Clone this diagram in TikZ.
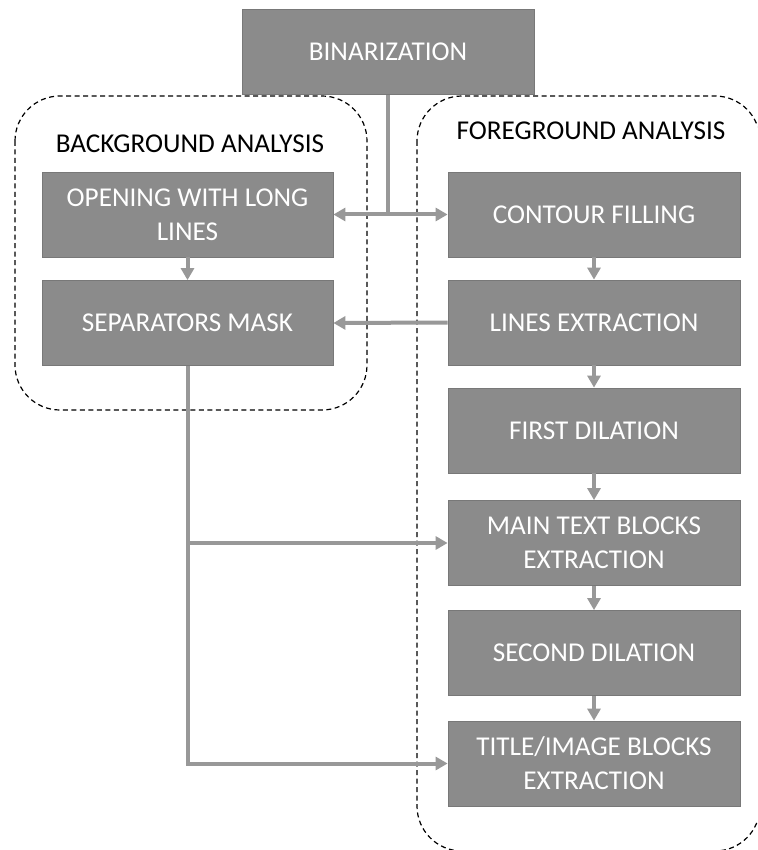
\documentclass[tikz,border=0pt]{standalone}
\usepackage{fontspec}
\setmainfont{Carlito}
\usetikzlibrary{arrows.meta}
\definecolor{boxfill}{RGB}{139,139,139}
\definecolor{boxedge}{RGB}{120,120,120}
\definecolor{linkcol}{RGB}{152,152,152}
\tikzset{
  stage/.style={draw=boxedge, line width=0.8pt, fill=boxfill, text=white,
    minimum width=292pt, minimum height=85pt, align=center, inner sep=0pt,
    font=\fontsize{27.2}{34}\selectfont},
  grouplabel/.style={text=black, anchor=base, inner sep=0pt,
    font=\fontsize{27.2}{34}\selectfont},
  group/.style={draw=black, line width=1.2pt, dash pattern=on 5pt off 3.5pt, rounded corners=45pt},
  link/.style={draw=linkcol, line width=4pt},
  flow/.style={link, -{Triangle[length=12pt,width=13pt]}},
}
\begin{document}
\begin{tikzpicture}[x=1pt,y=-1pt]
\useasboundingbox (0,0) rectangle (757,850);
\fill[white] (0,0) rectangle (757,850);
\clip (0,0) rectangle (757,850);
% group frames
\path[group] (15,96) rectangle (367,410);
\path[group] (417,96) rectangle (760,851);
\node[grouplabel] (bglab) at (190,153) {BACKGROUND ANALYSIS};
\node[grouplabel] (fglab) at (591,140) {FOREGROUND ANALYSIS};
% stages
\node[stage] (bin) at (388,52) {BINARIZATION};
\node[stage, minimum width=291pt] (open) at (187.5,214.5) {OPENING WITH LONG\\LINES};
\node[stage, minimum width=291pt] (sep) at (187.5,323) {SEPARATORS MASK};
\node[stage] (contour) at (594,214.5) {CONTOUR FILLING};
\node[stage] (lines) at (594,322.5) {LINES EXTRACTION};
\node[stage] (first) at (594,430.5) {FIRST DILATION};
\node[stage] (main) at (594,543) {MAIN TEXT BLOCKS\\EXTRACTION};
\node[stage] (second) at (594,653) {SECOND DILATION};
\node[stage] (title) at (594,763.5) {TITLE/IMAGE BLOCKS\\EXTRACTION};
% connectors
\coordinate (j) at (bin.south |- open.east);
\draw[link] (bin.south) -- (j);
\draw[flow] (j) -- (open.east);
\draw[flow] (j) -- (contour.west);
\draw[flow] (lines.west) -- (sep.east);
\draw[flow] (open.south) -- (sep.north);
\draw[flow] (contour.south) -- (lines.north);
\draw[flow] (lines.south) -- (first.north);
\draw[flow] (first.south) -- (main.north);
\draw[flow] (main.south) -- (second.north);
\draw[flow] (second.south) -- (title.north);
\coordinate (k) at (sep.south |- main.west);
\draw[flow] (sep.south) |- (title.west);
\draw[flow] (k) -- (main.west);
\end{tikzpicture}
\end{document}
